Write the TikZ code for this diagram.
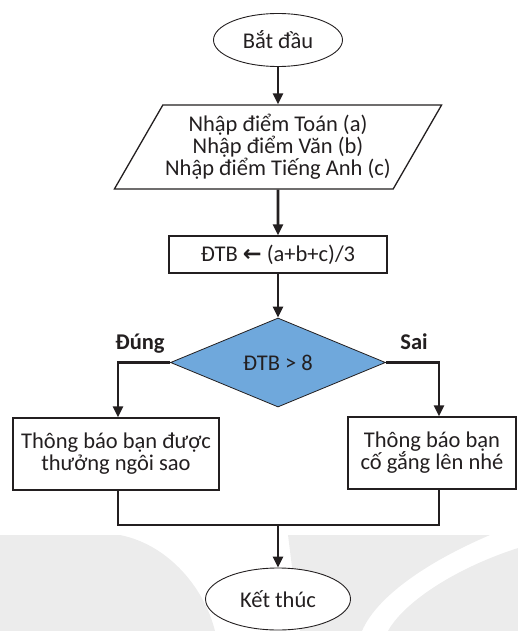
\documentclass[tikz,border=0pt]{standalone}
\usepackage{fontspec}
\setmainfont{Carlito}
\newfontfamily\symfont{DejaVu Sans}
\usetikzlibrary{shapes.geometric}
\usetikzlibrary{arrows.meta}

\definecolor{xanhthoi}{RGB}{111,168,220}
\definecolor{nenmo}{RGB}{236,236,236}
\definecolor{muc}{RGB}{35,31,32}

\begin{document}
\begin{tikzpicture}[x=1pt, y=-1pt, font=\fontsize{22.5}{22}\selectfont, text=muc,
  hop/.style={draw=muc, line width=1.3pt, fill=white, inner sep=0pt, align=center},
  muiten/.style={draw=muc, line width=2.6pt, -{Triangle[length=11pt,width=10pt]}},
  duong/.style={draw=muc, line width=2.6pt},
  nhan/.style={font=\fontsize{22.5}{22}\selectfont\bfseries}]
  \useasboundingbox (0,0) rectangle (518,631);

  % nen mo phia duoi
  \fill[nenmo] (0,535) -- (120,535) .. controls (170,545) and (205,590) .. (215,631) -- (0,631) -- cycle;
  \fill[nenmo] (288,535) -- (490,535) .. controls (420,565) and (375,600) .. (362,631) -- (300,631) -- cycle;
  \fill[nenmo] (518,548) .. controls (450,570) and (402,605) .. (388,631) -- (518,631) -- cycle;

  \node[hop, ellipse, line width=0.9pt, minimum width=129, minimum height=53] (batdau) at (278,40) {Bắt đầu};
  \node[hop, trapezium, trapezium left angle=54, trapezium right angle=126, trapezium stretches=true,
        minimum width=328, minimum height=84] (nhap) at (278,147)
        {Nhập điểm Toán (a)\\Nhập điểm Văn (b)\\Nhập điểm Tiếng Anh (c)};
  \node[hop, rectangle, minimum width=218, minimum height=37] (tinh) at (278,254.5)
        {ĐTB {\symfont\bfseries ←} (a+b+c)/3};
  \node[hop, diamond, line width=0.8pt, fill=xanhthoi, minimum width=215, minimum height=89] (xet) at (278,362.5) {ĐTB > 8};
  \node[nhan] (dung) at (140,344) {Đúng};
  \node[nhan] (sai) at (414,342) {Sai};

  \node[hop, rectangle, minimum width=206, minimum height=72] (tb1) at (116,454)
        {Thông báo bạn được\\thưởng ngôi sao};
  \node[hop, rectangle, minimum width=168, minimum height=72] (tb2) at (432,453)
        {Thông báo bạn\\cố gắng lên nhé};

  \node[hop, ellipse, line width=0.9pt, minimum width=145, minimum height=62] (ketthuc) at (278,599) {Kết thúc};

  \coordinate (reL) at (118,0);
  \coordinate (reR) at (439,0);
  \coordinate (gop) at (278,525);

  \draw[muiten] (batdau) -- (nhap);
  \draw[muiten] (nhap) -- (tinh);
  \draw[muiten] (tinh) -- (xet);
  \draw[muiten] (xet.west) -| (tb1.north -| reL);
  \draw[muiten] (xet.east) -| (tb2.north -| reR);
  \draw[duong] (tb1.south -| reL) |- (gop) -| (tb2.south -| reR);
  \draw[muiten] (gop) -- (ketthuc);
\end{tikzpicture}
\end{document}
